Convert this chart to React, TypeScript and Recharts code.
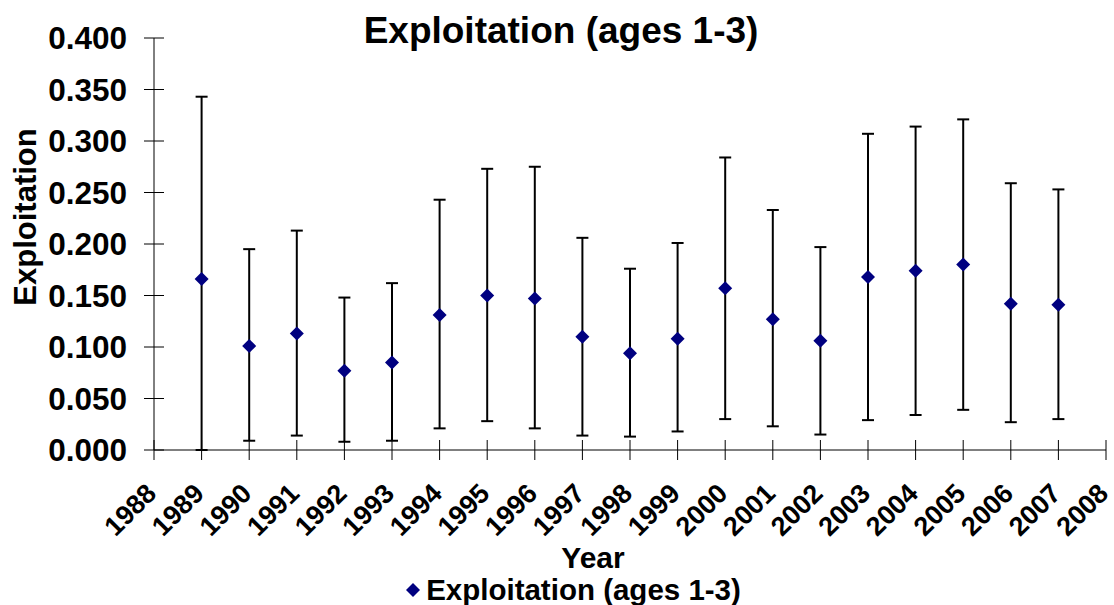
import React from 'react';
import { ComposedChart, Scatter, ErrorBar, XAxis, YAxis, Legend } from 'recharts';

const years = [1989, 1990, 1991, 1992, 1993, 1994, 1995, 1996, 1997, 1998, 1999, 2000, 2001, 2002, 2003, 2004, 2005, 2006, 2007];
const exploitation = [0.166, 0.101, 0.113, 0.077, 0.085, 0.131, 0.150, 0.147, 0.110, 0.094, 0.108, 0.157, 0.127, 0.106, 0.168, 0.174, 0.180, 0.142, 0.141];
const lowerBound = [0.000, 0.009, 0.014, 0.008, 0.009, 0.021, 0.028, 0.021, 0.014, 0.013, 0.018, 0.030, 0.023, 0.015, 0.029, 0.034, 0.039, 0.027, 0.030];
const upperBound = [0.343, 0.195, 0.213, 0.148, 0.162, 0.243, 0.273, 0.275, 0.206, 0.176, 0.201, 0.284, 0.233, 0.197, 0.307, 0.314, 0.321, 0.259, 0.253];
const xTicks = [1988, 1989, 1990, 1991, 1992, 1993, 1994, 1995, 1996, 1997, 1998, 1999, 2000, 2001, 2002, 2003, 2004, 2005, 2006, 2007, 2008];
const yTicks = [0, 0.05, 0.1, 0.15, 0.2, 0.25, 0.3, 0.35, 0.4];

const data = years.map((year, i) => ({
  year,
  value: exploitation[i],
  err: [exploitation[i] - lowerBound[i], upperBound[i] - exploitation[i]],
}));

const FONT = '"Liberation Sans", Arial, sans-serif';
const NAVY = '#000080';

const YTick = ({ x, y, payload }: any) => (
  <g>
    <line x1={x - 10} x2={x + 10} y1={y} y2={y} stroke="#000" strokeWidth={1} />
    <text x={x - 27} y={y} dy={11} textAnchor="end" fontFamily={FONT} fontSize={31.5} fontWeight="bold" fill="#000">
      {payload.value.toFixed(3)}
    </text>
  </g>
);

const XTick = ({ x, y, payload }: any) => {
  const ax = x + 4;
  const ay = y + 45;
  return (
    <g>
      <line x1={x} x2={x} y1={y - 10} y2={y + 10} stroke="#000" strokeWidth={1} />
      <text x={ax} y={ay} transform={`rotate(-45 ${ax} ${ay})`} textAnchor="end" fontFamily={FONT} fontSize={27} fontWeight="bold" fill="#000">
        {payload.value}
      </text>
    </g>
  );
};

const Diamond = ({ cx, cy }: any) => (
  <polygon points={`${cx},${cy - 7} ${cx + 7},${cy} ${cx},${cy + 7} ${cx - 7},${cy}`} fill={NAVY} />
);

const LegendContent = () => (
  <div style={{ display: 'flex', justifyContent: 'center', alignItems: 'center', fontFamily: FONT, fontWeight: 'bold', fontSize: 29.5, color: '#000' }}>
    <svg width={18} height={16} style={{ marginRight: 3 }}>
      <polygon points="8,1 15,8 8,15 1,8" fill={NAVY} />
    </svg>
    <span>Exploitation (ages 1-3)</span>
  </div>
);

export default function App() {
  return (
    <div style={{ position: 'absolute', left: 0, top: 0, width: 1114, height: 605, background: '#fff' }}>
      <ComposedChart width={1114} height={605} data={data} margin={{ top: 38, right: 8, left: 10, bottom: 55 }}>
        <XAxis
          type="number"
          dataKey="year"
          domain={[1988, 2008]}
          ticks={xTicks}
          interval={0}
          tickLine={false}
          tickSize={0}
          tickMargin={0}
          axisLine={{ stroke: '#000', strokeWidth: 1 }}
          height={100}
          tick={<XTick />}
          label={() => (
            <text x={593} y={568} textAnchor="middle" fontFamily={FONT} fontSize={30} fontWeight="bold" fill="#000">
              Year
            </text>
          )}
        />
        <YAxis
          type="number"
          domain={[0, 0.4]}
          ticks={yTicks}
          interval={0}
          tickLine={false}
          tickSize={0}
          tickMargin={0}
          axisLine={{ stroke: '#000', strokeWidth: 1 }}
          width={144}
          tick={<YTick />}
          label={() => (
            <text x={36} y={217} transform="rotate(-90 36 217)" textAnchor="middle" fontFamily={FONT} fontSize={31} fontWeight="bold" fill="#000">
              Exploitation
            </text>
          )}
        />
        <Legend verticalAlign="middle" align="center" content={<LegendContent />} wrapperStyle={{ top: 573, left: 0, width: 1146 }} />
        <Scatter name="Exploitation (ages 1-3)" dataKey="value" fill={NAVY} shape={<Diamond />} isAnimationActive={false}>
          <ErrorBar dataKey="err" direction="y" width={6} stroke="#000" strokeWidth={2} isAnimationActive={false} />
        </Scatter>
      </ComposedChart>
      <svg width={1114} height={60} style={{ position: 'absolute', left: 0, top: 0, pointerEvents: 'none' }}>
        <text x={561} y={43} textAnchor="middle" fontFamily={FONT} fontSize={37} fontWeight="bold" fill="#000">
          Exploitation (ages 1-3)
        </text>
      </svg>
    </div>
  );
}
